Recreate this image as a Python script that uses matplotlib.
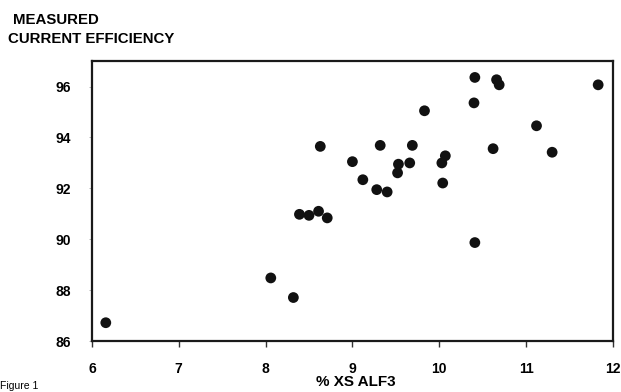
import matplotlib
matplotlib.use("Agg")
import matplotlib.pyplot as plt

# % excess AlF3 vs measured current efficiency
xs_alf3 = [6.16, 8.06, 8.32, 8.39, 8.50, 8.61, 8.71, 8.63, 9.00, 9.12,
           9.28, 9.40, 9.32, 9.53, 9.52, 9.66, 9.69, 9.83, 10.03, 10.07,
           10.04, 10.41, 10.40, 10.41, 10.66, 10.69, 10.62, 11.12, 11.30, 11.83]
efficiency = [86.72, 88.48, 87.71, 90.98, 90.94, 91.10, 90.84, 93.65, 93.05, 92.34,
              91.95, 91.86, 93.69, 92.95, 92.61, 93.00, 93.69, 95.05, 93.00, 93.28,
              92.21, 89.87, 95.36, 96.36, 96.27, 96.07, 93.56, 94.46, 93.42, 96.07]

x_ticks = [6, 7, 8, 9, 10, 11, 12]
y_ticks = [86, 88, 90, 92, 94, 96]

plt.rcParams['font.family'] = ['Liberation Sans', 'DejaVu Sans']

fig = plt.figure(figsize=(6.21, 3.92), dpi=100)
ax = fig.add_axes([0.148, 0.130, 0.839, 0.714])

ax.scatter(xs_alf3, efficiency, s=60, color='#111111', edgecolors='none', zorder=3)

ax.set_xlim(6, 12)
ax.set_ylim(86, 97)
ax.set_xticks(x_ticks)
ax.set_yticks(y_ticks)
ax.set_xticklabels([str(v) for v in x_ticks], fontsize=10, fontweight='bold')
ax.set_yticklabels([str(v) for v in y_ticks], fontsize=10, fontweight='bold')
ax.tick_params(axis='x', direction='out', length=4, width=1, pad=11, color='#333333')
ax.tick_params(axis='y', direction='out', length=2, width=0.6, pad=13, color='#aaaaaa')

for sp in ax.spines.values():
    sp.set_linewidth(1.6)
    sp.set_color('#1a1a1a')

ax.set_xlabel('% XS ALF3', fontsize=11, fontweight='bold')
ax.xaxis.set_label_coords(0.507, -0.12)

fig.text(0.021, 0.950, 'MEASURED', fontsize=10.8, fontweight='bold', va='center')
fig.text(0.013, 0.900, 'CURRENT EFFICIENCY', fontsize=10.8, fontweight='bold', va='center')
fig.text(0.0, 0.003, 'Figure 1', fontsize=7.5, va='bottom')

fig.savefig('out.png', dpi=100)
